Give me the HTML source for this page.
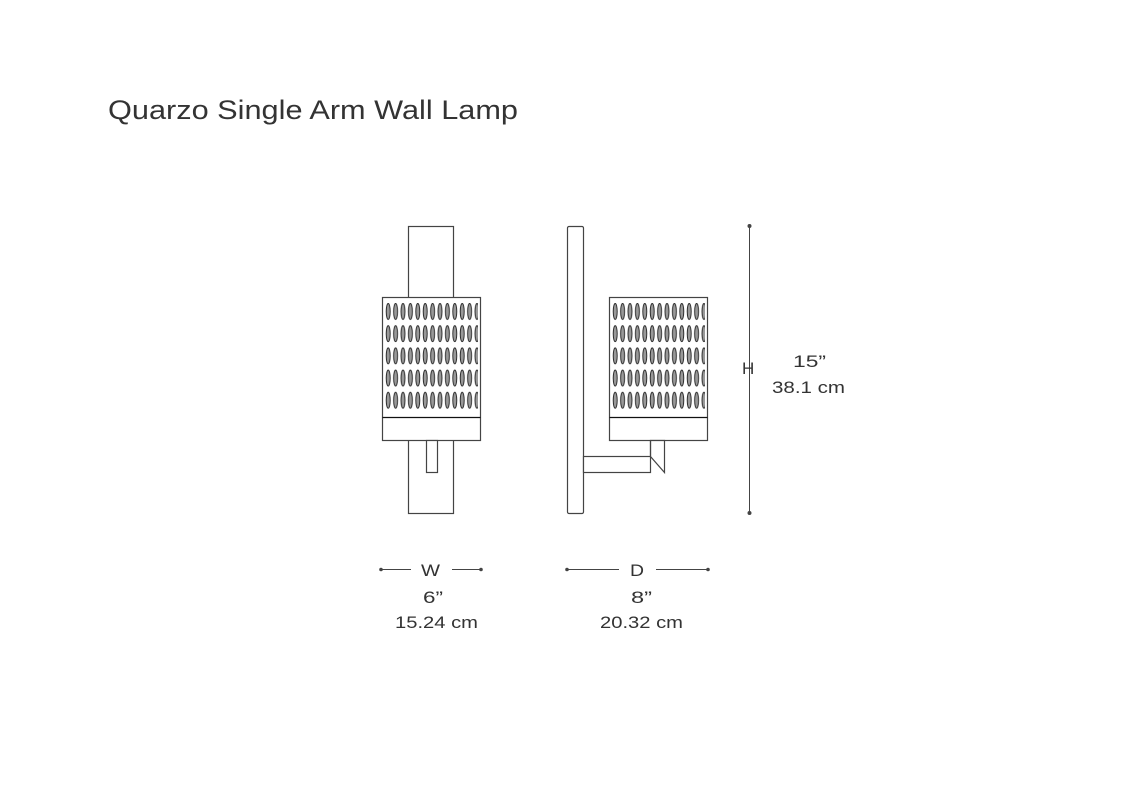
<!DOCTYPE html>
<html><head><meta charset="utf-8"><style>
html,body{margin:0;padding:0;background:#fff;}
svg{display:block;}
text{font-family:"Liberation Sans",sans-serif;fill:#333;}
</style></head><body>
<svg width="1136" height="800" viewBox="0 0 1136 800" xmlns="http://www.w3.org/2000/svg">
<defs>
<pattern id="pl" x="385" y="303" width="7.4" height="22.2" patternUnits="userSpaceOnUse">
<ellipse cx="3.2" cy="8.5" rx="2" ry="8" fill="#999" stroke="#222" stroke-width="0.9"/>
</pattern>
<pattern id="pr" x="612" y="303" width="7.4" height="22.2" patternUnits="userSpaceOnUse">
<ellipse cx="3.2" cy="8.5" rx="2" ry="8" fill="#999" stroke="#222" stroke-width="0.9"/>
</pattern>
</defs>
<text x="108" y="119" font-size="27" textLength="410" lengthAdjust="spacingAndGlyphs">Quarzo Single Arm Wall Lamp</text>

<g fill="#fff" stroke="#444" stroke-width="1.2">
<rect x="408.5" y="226.5" width="45" height="287"/>
<rect x="382.5" y="297.5" width="98" height="143"/>
<rect x="385" y="303" width="93" height="109" fill="url(#pl)" stroke="none"/>
<line x1="382.5" y1="417.5" x2="480.5" y2="417.5" stroke="#111"/>
<rect x="426.5" y="440.5" width="11" height="32"/>
<rect x="567.5" y="226.5" width="16" height="287" rx="1.5"/>
<rect x="609.5" y="297.5" width="98" height="143"/>
<rect x="612" y="303" width="93" height="109" fill="url(#pr)" stroke="none"/>
<line x1="609.5" y1="417.5" x2="707.5" y2="417.5" stroke="#111"/>
<rect x="583.5" y="456.5" width="67" height="16"/>
<polygon points="650.5,440.5 664.5,440.5 664.5,472.5 650.5,456.5"/>
<line x1="650.5" y1="456.5" x2="650.5" y2="440.5"/>
</g>

<g stroke="#444" stroke-width="1" fill="#444">
<line x1="749.5" y1="226" x2="749.5" y2="513"/>
<circle cx="749.5" cy="226" r="1.5"/><circle cx="749.5" cy="513" r="1.5"/>
<line x1="381" y1="569.5" x2="411" y2="569.5"/>
<line x1="452" y1="569.5" x2="481" y2="569.5"/>
<circle cx="381" cy="569.5" r="1.3"/><circle cx="481" cy="569.5" r="1.3"/>
<line x1="567" y1="569.5" x2="619" y2="569.5"/>
<line x1="656" y1="569.5" x2="708" y2="569.5"/>
<circle cx="567" cy="569.5" r="1.3"/><circle cx="708" cy="569.5" r="1.3"/>
</g>
<g font-size="17">
<text x="742" y="374">H</text>
<text x="793" y="367" textLength="33" lengthAdjust="spacingAndGlyphs">15”</text>
<text x="772" y="393" textLength="73" lengthAdjust="spacingAndGlyphs">38.1 cm</text>
<text x="421" y="576" textLength="19" lengthAdjust="spacingAndGlyphs">W</text>
<text x="630" y="576" textLength="14" lengthAdjust="spacingAndGlyphs">D</text>
<text x="423" y="603" textLength="20" lengthAdjust="spacingAndGlyphs">6”</text>
<text x="395" y="628" textLength="83" lengthAdjust="spacingAndGlyphs">15.24 cm</text>
<text x="631" y="603" textLength="21" lengthAdjust="spacingAndGlyphs">8”</text>
<text x="600" y="628" textLength="83" lengthAdjust="spacingAndGlyphs">20.32 cm</text>
</g>
</svg>
</body></html>
